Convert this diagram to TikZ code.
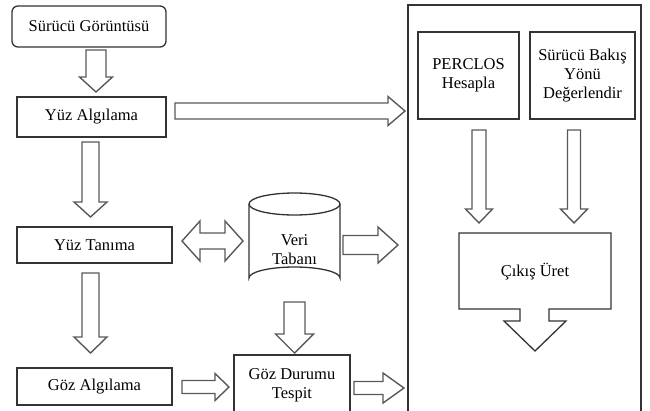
\documentclass[tikz,border=0pt]{standalone}
\usepackage{fontspec}
\setmainfont{Liberation Serif}
\begin{document}
% block arrows: right (x0, yc, x1, shaft half, head base, head half)
\newcommand\blkright[6]{%
  \draw[blk] ({#1},{#2-#4}) -- ({#5},{#2-#4}) -- ({#5},{#2-#6}) -- ({#3},{#2})
    -- ({#5},{#2+#6}) -- ({#5},{#2+#4}) -- ({#1},{#2+#4}) -- cycle;}
% down (xc, y0, y1, shaft half, head base, head half)
\newcommand\blkdown[6]{%
  \draw[blk] ({#1-#4},{#2}) -- ({#1-#4},{#5}) -- ({#1-#6},{#5}) -- ({#1},{#3})
    -- ({#1+#6},{#5}) -- ({#1+#4},{#5}) -- ({#1+#4},{#2}) -- cycle;}
\begin{tikzpicture}[x=1pt,y=-1pt,
  box/.style={draw=black!80, line width=1.3pt, fill=white, inner sep=2pt,
    align=center, font=\fontsize{16.5}{19}\selectfont},
  blk/.style={draw=black!65, line width=1.4pt, fill=white, line join=miter},
  lbl/.style={align=center, font=\fontsize{16.5}{19}\selectfont}]
\useasboundingbox (0,0) rectangle (650,410);
\begin{scope}
\clip (0,0) rectangle (650,410);
% outer processing frame
\draw[black!80, line width=1.3pt] (408,5) rectangle (641,420);
\node[box, rounded corners=6pt, minimum width=154pt, minimum height=41pt] (src) at (89,26.5) {Sürücü Görüntüsü};
\node[box, minimum width=149pt, minimum height=40pt] (face) at (91.5,117) {Yüz Algılama};
\node[box, minimum width=155pt, minimum height=36pt] (rec) at (94.5,245) {Yüz Tanıma};
\node[box, minimum width=155pt, minimum height=37pt] (eye) at (94.5,386.5) {Göz Algılama};
\draw[black!80, line width=1.3pt] (234,420) -- (234,355) -- (350,355) -- (350,420);
\node[lbl] (state) at (292,385) {Göz Durumu\\Tespit};
\node[box, minimum width=101pt, minimum height=87pt] (perc) at (468.5,75.5) {PERCLOS\\Hesapla};
\node[box, minimum width=105pt, minimum height=87pt] (gaze) at (582.5,75.5) {Sürücü Bakış\\Yönü\\Değerlendir};
% database cylinder
\draw[black!80, line width=1.3pt, fill=white] (249,204) -- (249,278) arc[start angle=180, end angle=360, x radius=45.5, y radius=11] -- (340,204);
\draw[black!80, line width=1.3pt, fill=white] (294.5,204) ellipse[x radius=45.5, y radius=11];
\node[lbl] (db) at (294.5,250) {Veri\\Tabanı};
% output block
\draw[black!80, line width=1.3pt, fill=white] (459,233) -- (611,233) -- (611,309) -- (549,309) -- (549,321) -- (566,321) -- (535,351) -- (504,321) -- (520,321) -- (520,309) -- (459,309) -- cycle;
\node[lbl] (out) at (535,272) {Çıkış Üret};
% flow arrows
\blkdown{96}{50}{92}{10}{77}{16.5}
\blkright{175}{111}{405}{8}{388}{14.5}
\blkdown{90.5}{142}{217}{8.5}{202}{16.5}
\blkdown{90.5}{273}{353}{8.5}{337}{16.5}
\draw[blk] (182,241) -- (200,221) -- (200,233) -- (225,233) -- (225,221) -- (243,241)
  -- (225,261) -- (225,249) -- (200,249) -- (200,261) -- cycle;
\blkright{343}{245}{398}{9.5}{378}{18}
\blkdown{294.5}{302}{353}{10.5}{334}{19}
\blkright{182}{387}{229}{6.5}{215}{13.5}
\blkright{354}{388}{404}{6.5}{383}{15}
\blkdown{479}{130}{223}{7}{209}{13.5}
\blkdown{574}{130}{223}{6.5}{209}{13.5}
\end{scope}
\end{tikzpicture}
\end{document}
